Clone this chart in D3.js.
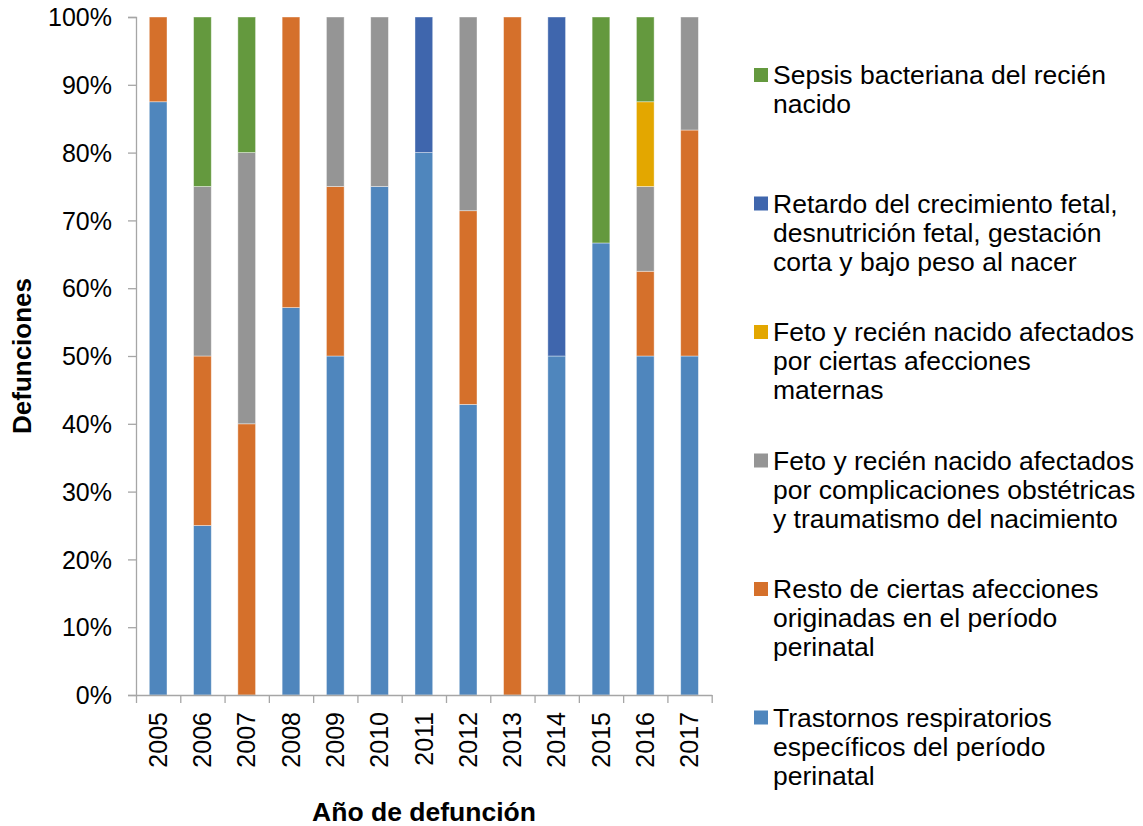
<!DOCTYPE html>
<html>
<head>
<meta charset="utf-8">
<script src="https://cdn.jsdelivr.net/npm/d3@7"></script>
<style>
  body { margin: 0; background: #fff; }
  text { font-family: Arial, "Liberation Sans", sans-serif; fill: #000; }
</style>
</head>
<body>
<svg id="chart" width="1143" height="826"></svg>
<script>
const years = ["2005", "2006", "2007", "2008", "2009", "2010", "2011", "2012", "2013", "2014", "2015", "2016", "2017"];

// percentages per series, bottom of the stack first
const trastornos = [87.5, 25, 0, 57.14, 50, 75, 80, 42.86, 0, 50, 66.67, 50, 50];
const resto = [12.5, 25, 40, 42.86, 25, 0, 0, 28.57, 100, 0, 0, 12.5, 33.33];
const fetoComplicaciones = [0, 25, 40, 0, 25, 25, 0, 28.57, 0, 0, 0, 12.5, 16.67];
const fetoMaternas = [0, 0, 0, 0, 0, 0, 0, 0, 0, 0, 0, 12.5, 0];
const retardo = [0, 0, 0, 0, 0, 0, 20, 0, 0, 50, 0, 0, 0];
const sepsis = [0, 25, 20, 0, 0, 0, 0, 0, 0, 0, 33.33, 12.5, 0];

const seriesKeys = ["trastornos", "resto", "fetoComplicaciones", "fetoMaternas", "retardo", "sepsis"];
const seriesColors = ["#4F86BD", "#D5702B", "#959595", "#E3A700", "#3F66AD", "#64993E"];
const seriesLabels = [
  ["Trastornos respiratorios", "específicos del período", "perinatal"],
  ["Resto de ciertas afecciones", "originadas en el período", "perinatal"],
  ["Feto y recién nacido afectados", "por complicaciones obstétricas", "y traumatismo del nacimiento"],
  ["Feto y recién nacido afectados", "por ciertas afecciones", "maternas"],
  ["Retardo del crecimiento fetal,", "desnutrición fetal, gestación", "corta y bajo peso al nacer"],
  ["Sepsis bacteriana del recién", "nacido"]
];
const yTicks = [0, 10, 20, 30, 40, 50, 60, 70, 80, 90, 100];

const seriesValues = [trastornos, resto, fetoComplicaciones, fetoMaternas, retardo, sepsis];
const table = years.map((year, i) => {
  const row = { year };
  seriesKeys.forEach((k, s) => { row[k] = seriesValues[s][i]; });
  return row;
});

const svg = d3.select("#chart");
const plotLeft = 136, plotRight = 711.7, plotTop = 17, plotBottom = 695;
const axisColor = "#a6a6a6";

const x = d3.scaleBand().domain(years).range([plotLeft, plotRight]).paddingInner(0.6).paddingOuter(0.3);
const xEdge = d3.scaleLinear().domain([0, years.length]).range([plotLeft, plotRight]);
const y = d3.scaleLinear().domain([0, 100]).range([plotBottom, plotTop]);
const color = d3.scaleOrdinal(seriesKeys, seriesColors);

const stacked = d3.stack().keys(seriesKeys)(table);

svg.append("g")
  .selectAll("g")
  .data(stacked)
  .join("g")
  .attr("fill", d => color(d.key))
  .selectAll("rect")
  .data(d => d.filter(p => p[1] - p[0] > 0))
  .join("rect")
  .attr("x", d => x(d.data.year))
  .attr("width", x.bandwidth())
  .attr("y", d => y(d[1]))
  .attr("height", d => y(d[0]) - y(d[1]))
  .attr("stroke", "#ffffff")
  .attr("stroke-opacity", 0.5)
  .attr("stroke-width", 0.8);

// y axis
const yAxis = svg.append("g")
  .attr("transform", "translate(" + plotLeft + ",0)")
  .call(d3.axisLeft(y).tickValues(yTicks).tickSize(8).tickPadding(16).tickFormat(d => d + "%"));
yAxis.select(".domain").attr("stroke", axisColor).attr("stroke-width", 1.3);
yAxis.selectAll(".tick line").attr("stroke", axisColor).attr("stroke-width", 1.3);
yAxis.selectAll(".tick text").style("font-size", "25px").attr("dy", "0.35em");

// x axis: ticks between categories
const xAxis = svg.append("g")
  .attr("transform", "translate(0," + plotBottom + ")")
  .call(d3.axisBottom(xEdge).ticks(years.length).tickSize(8).tickSizeOuter(0).tickFormat(""));
xAxis.select(".domain").attr("stroke", axisColor).attr("stroke-width", 1.3);
xAxis.selectAll(".tick line").attr("stroke", axisColor).attr("stroke-width", 1.3);

svg.append("g")
  .selectAll("text")
  .data(years)
  .join("text")
  .attr("transform", d => "translate(" + (x(d) + x.bandwidth() / 2) + "," + (plotBottom + 17) + ") rotate(-90)")
  .attr("text-anchor", "end")
  .attr("dy", "0.35em")
  .style("font-size", "25px")
  .text(d => d);

// axis titles
svg.append("text")
  .attr("x", 424)
  .attr("y", 821)
  .attr("text-anchor", "middle")
  .style("font-size", "26.5px")
  .style("font-weight", "bold")
  .text("Año de defunción");

svg.append("text")
  .attr("transform", "translate(31," + ((plotTop + plotBottom) / 2) + ") rotate(-90)")
  .attr("text-anchor", "middle")
  .style("font-size", "26px")
  .style("font-weight", "bold")
  .text("Defunciones");

// legend, top entry is the top of the stack
const legendOrder = seriesKeys.slice().reverse();
const legend = svg.append("g")
  .selectAll("g")
  .data(legendOrder)
  .join("g")
  .attr("transform", (d, i) => "translate(754," + (84 + i * 128.5) + ")");

legend.append("rect")
  .attr("x", 0)
  .attr("y", -16)
  .attr("width", 14)
  .attr("height", 14)
  .attr("fill", d => color(d));

legend.append("text")
  .style("font-size", "26.5px")
  .selectAll("tspan")
  .data(d => seriesLabels[seriesKeys.indexOf(d)])
  .join("tspan")
  .attr("x", 19)
  .attr("y", (d, i) => i * 29)
  .text(d => d);
</script>
</body>
</html>
